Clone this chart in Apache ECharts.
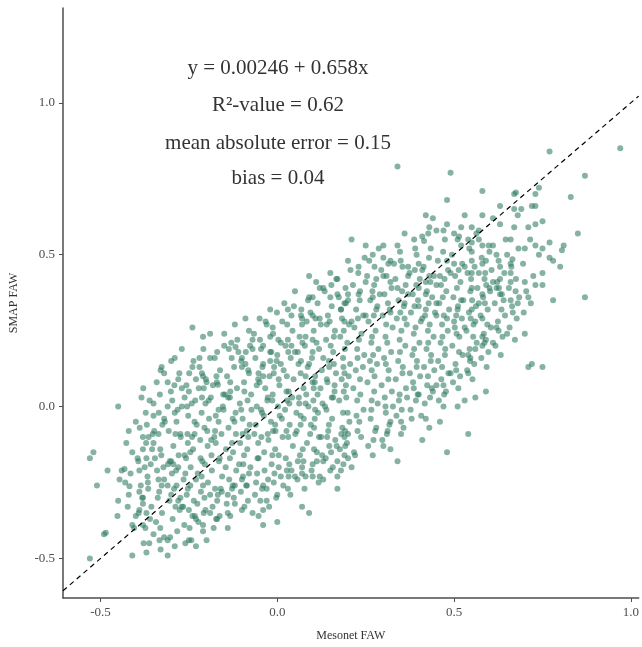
<!DOCTYPE html>
<html>
<head>
<meta charset="utf-8">
<script src="https://cdn.jsdelivr.net/npm/echarts@6/dist/echarts.min.js"></script>
<style>
html,body{margin:0;padding:0;background:#fff;}
#chart{width:642px;height:647px;}
</style>
</head>
<body>
<div id="chart"></div>
<script>
// ---- axis settings ----
const xMin = -0.606, xMax = 1.022;
const yMin = -0.630, yMax = 1.312;
const xTicks = [-0.5, 0.0, 0.5, 1.0];
const yTicks = [-0.5, 0.0, 0.5, 1.0];
const xName = 'Mesonet FAW';
const yName = 'SMAP FAW';
const annotations = ['y = 0.00246 + 0.658x', 'R\u00B2-value = 0.62', 'mean absolute error = 0.15', 'bias = 0.04'];

// ---- data: [Mesonet FAW, SMAP FAW] ----
const sparsePoints = [
[0.70,0.24],[0.65,0.24],[0.71,0.13],[0.72,0.14],[0.75,0.13],[0.59,0.05],[0.56,0.03],[0.53,0.02],[0.51,0.00],[0.47,0.00],
[0.54,-0.09],[0.48,-0.15],[0.41,-0.11],[0.43,-0.07],[0.46,-0.05],[0.42,-0.04],[0.34,-0.18],[0.32,-0.14],[0.30,-0.13],[0.27,-0.16],
[0.22,-0.16],[0.19,-0.16],[0.21,-0.20],[0.18,-0.21],[0.17,-0.27],[0.35,-0.09],[0.31,-0.09],[0.28,-0.07],[0.19,-0.10],[0.20,-0.09],
[0.38,-0.04],[0.35,-0.05],[0.32,-0.05],[0.45,0.07],[0.47,0.07],[0.44,0.05],[0.40,0.04],[0.49,0.11],[0.54,0.11],[0.54,0.17],
[0.545,0.15],[0.56,0.19],[0.58,0.20],[0.61,0.21],[0.62,0.26],[0.58,0.23],[0.59,0.22]
];
const upperRightPoints = [
[0.97,0.85],[0.77,0.84],[0.87,0.76],[0.83,0.69],[0.85,0.57],[0.34,0.79],[0.49,0.77],[0.58,0.71],[0.48,0.68],[0.67,0.70],
[0.675,0.705],[0.73,0.70],[0.74,0.72],[0.63,0.66],[0.67,0.65],[0.69,0.65],[0.72,0.66],[0.73,0.66],[0.68,0.63],[0.58,0.63],
[0.61,0.62],[0.63,0.60],[0.67,0.59],[0.71,0.59],[0.73,0.60],[0.75,0.61],[0.66,0.55],[0.70,0.52],[0.73,0.53],[0.75,0.52],
[0.77,0.54],[0.81,0.53],[0.805,0.515],[0.74,0.50],[0.77,0.49],[0.78,0.48],[0.80,0.46],[0.75,0.44],[0.70,0.41],[0.73,0.40],
[0.75,0.40],[0.71,0.36],[0.78,0.35],[0.87,0.36],[0.42,0.63],[0.43,0.59],[0.48,0.60],[0.47,0.58],[0.50,0.57],[0.52,0.59],
[0.55,0.59],[0.57,0.58],[0.21,0.55],[0.25,0.53],[0.34,0.53],[0.41,0.56],[0.415,0.545],[0.26,0.48],[0.30,0.49],[0.32,0.48],
[0.33,0.47],[0.51,0.55],[0.54,0.55],[0.55,0.54],[0.57,0.55],[0.52,0.53],[0.55,0.51],[0.58,0.53],[0.60,0.51],[0.62,0.50],
[0.61,0.53],[0.63,0.46],[0.66,0.47],[0.665,0.485],[0.65,0.50],[0.55,0.48],[0.58,0.47],[0.59,0.48],[0.53,0.46],[0.55,0.44],
[0.57,0.44],[0.61,0.41],[0.63,0.42],[0.66,0.44],[0.66,0.41],[0.68,0.34],[0.66,0.35],[0.64,0.35],[0.62,0.39],[0.63,0.37],
[0.60,0.39],[0.58,0.37],[0.55,0.39],[0.52,0.35],[0.51,0.32],[0.55,0.32],[0.57,0.34],[0.58,0.29],[0.56,0.28],[0.53,0.26],
[0.50,0.28],[0.48,0.29],[0.45,0.34],[0.42,0.37],[0.48,0.48],[0.50,0.47],[0.49,0.44],[0.46,0.43],[0.43,0.43],[0.41,0.45],
[0.40,0.47],[0.37,0.46],[0.37,0.43],[0.42,0.41],[0.45,0.40],[0.40,0.39],[0.37,0.37],[0.34,0.39],[0.32,0.41],[0.30,0.43],
[0.28,0.42],[0.25,0.41],[0.23,0.37],[0.20,0.35],[0.18,0.32],[0.36,0.34],[0.40,0.33],[0.42,0.32],[0.45,0.30],[0.41,0.29],
[0.36,0.29],[0.32,0.31],[0.28,0.32],[0.25,0.30],[0.21,0.28],[0.19,0.34],[0.27,0.36],[0.29,0.37],
[0.20,0.48],[0.23,0.46],[0.27,0.50],[0.30,0.53],[0.36,0.57],[0.39,0.52],[0.45,0.58],[0.53,0.63],[0.44,0.62]
];
const upperLeftPoints = [
[0.09,0.43],[0.17,0.42],[-0.24,0.26],[-0.21,0.23],[-0.19,0.24],[-0.09,0.29],[-0.05,0.29],[-0.03,0.27],[-0.02,0.23],[-0.07,0.22],
[-0.15,0.20],[-0.13,0.21],[-0.118,0.196],[-0.27,0.19],[-0.30,0.15],[-0.29,0.16],[-0.33,0.12],[-0.32,0.11],[-0.22,0.16],[-0.19,0.16],
[-0.17,0.18],[-0.24,0.13],[-0.22,0.13],[-0.21,0.10],[-0.23,0.09],[-0.31,0.08],[-0.28,0.09],[-0.27,0.06],[-0.25,0.05],[-0.45,0.00],
[-0.35,0.01],[-0.31,0.00],[-0.29,-0.02],[-0.27,0.00],[-0.232,0.02],[-0.208,0.06],[-0.188,0.03],[-0.171,0.08],[-0.148,0.04],[-0.20,0.08],
[-0.168,0.072],[-0.11,0.18],[-0.10,0.16],[-0.09,0.14],[-0.10,0.13],[-0.08,0.11],[-0.07,0.19],[-0.04,0.20],[-0.02,0.18],[0.00,0.17],
[-0.04,0.14],[-0.02,0.15],[0.01,0.14],[-0.01,0.11],[-0.04,0.10],[-0.05,0.08],[0.01,0.21],[0.03,0.22],[0.04,0.20],[0.05,0.18],
[0.07,0.27],[0.08,0.23],[0.10,0.22],[0.03,0.32],[0.04,0.30],[0.07,0.29],[0.09,0.36],[0.10,0.36],[0.12,0.39],[0.13,0.39],
[0.15,0.36],[0.17,0.37],[0.20,0.37],[0.10,0.30],[0.12,0.29],[0.14,0.27],[0.16,0.23],[0.18,0.32],[0.19,0.28],[0.10,0.18],
[0.13,0.16],[0.16,0.14],[0.19,0.11],[0.14,0.09],[0.10,0.08],[0.08,0.10],[0.06,0.14],[0.09,0.14],[-0.133,0.05],[-0.102,-0.01],
[-0.058,0.07],[-0.028,0.02],[0.004,0.09],[0.032,0.05],[0.061,0.03],[0.08,0.01],[0.103,0.06],[0.128,0.01],[0.162,0.07],[0.188,0.05],
[-0.12,0.27],[-0.08,0.25],[-0.15,0.24],[0.02,0.34],[0.05,0.38],[-0.02,0.32],[0.11,0.41],[0.15,0.44]
];
const lowerLeftPoints = [
[-0.53,-0.50],[-0.49,-0.42],[-0.485,-0.415],[-0.51,-0.26],[-0.52,-0.15],[-0.53,-0.17],[-0.48,-0.21],[-0.41,-0.49],[-0.37,-0.48],[-0.33,-0.47],
[-0.31,-0.49],[-0.29,-0.46],[-0.26,-0.45],[-0.25,-0.44],[-0.23,-0.46],[-0.20,-0.44],[-0.41,-0.39],[-0.405,-0.40],[-0.35,-0.42],[-0.32,-0.43],
[-0.31,-0.44],[-0.21,-0.41],[-0.18,-0.40],[-0.14,-0.40],[-0.04,-0.39],[0.00,-0.38],[0.07,-0.33],[0.09,-0.35],[0.17,-0.23],[0.13,-0.24],
[0.10,-0.23],[0.08,-0.23],[-0.45,-0.31],[-0.42,-0.29],[-0.43,-0.25],[-0.418,-0.262],[-0.44,-0.21],[-0.432,-0.205],[-0.39,-0.21],[-0.41,-0.15],
[-0.38,-0.14],[-0.37,-0.17],[-0.42,-0.08],[-0.40,-0.05],[-0.38,-0.10],[-0.35,-0.12],[-0.35,-0.03],[-0.32,-0.04],[-0.39,-0.28],[-0.38,-0.30],
[-0.38,-0.32],[-0.39,-0.34],[-0.37,-0.35],[-0.36,-0.37],[-0.40,-0.36],[-0.38,-0.39],[-0.34,-0.21],[-0.32,-0.24],[-0.31,-0.26],[-0.30,-0.29],
[-0.28,-0.31],[-0.27,-0.33],[-0.25,-0.34],[-0.24,-0.36],[-0.23,-0.37],[-0.21,-0.39],[-0.19,-0.35],[-0.17,-0.37],[-0.14,-0.35],[-0.12,-0.32],
[-0.10,-0.34],[-0.07,-0.35],[-0.04,-0.34],[-0.03,-0.31],[0.00,-0.29],[0.03,-0.27],[0.05,-0.23],[0.07,-0.22],[0.12,-0.23],[0.15,-0.21],
[-0.30,-0.18],[-0.28,-0.20],[-0.26,-0.22],[-0.23,-0.24],[-0.21,-0.26],[-0.19,-0.29],[-0.17,-0.31],[-0.16,-0.27],[-0.14,-0.29],[-0.12,-0.26],
[-0.10,-0.24],[-0.08,-0.22],[-0.06,-0.25],[-0.04,-0.26],[-0.03,-0.27],[-0.01,-0.25],[0.01,-0.23],[0.04,-0.21],[0.07,-0.20],[0.10,-0.19],
[0.13,-0.18],[0.17,-0.18],[0.20,-0.17],
[-0.372,-0.02],[-0.348,-0.08],[-0.318,-0.05],[-0.297,0.02],[-0.274,-0.09],[-0.252,-0.03],[-0.228,-0.06],[-0.203,0.01],[-0.176,-0.08],[-0.152,-0.01],
[-0.139,0.03],[-0.121,-0.05],[-0.098,-0.09],[-0.084,0.02],[-0.061,-0.06],[-0.043,-0.02],[-0.027,0.03],[-0.012,-0.08],[0.013,-0.04],[0.028,0.02],
[0.051,-0.09],[0.066,-0.03],[0.088,0.00],[0.104,-0.07],[0.118,-0.10],[0.139,-0.01],[0.158,0.03],[0.181,-0.09],[0.199,-0.02],
[-0.393,-0.18],[-0.364,-0.10],[-0.331,-0.14],[-0.309,-0.19],[-0.288,-0.09],[-0.262,-0.16],[-0.234,-0.09],[-0.212,-0.18],[-0.187,-0.11],[-0.163,-0.17],
[-0.128,-0.12],[-0.108,-0.19],[-0.082,-0.10],[-0.053,-0.17],[-0.027,-0.09],[0.004,-0.16],[0.031,-0.10],[0.058,-0.18],[0.093,-0.09],[0.112,-0.15],
[0.141,-0.10],[0.168,-0.13],[0.192,-0.08]
];
const coreLeftPoints = [
[-0.392,-0.35],[-0.386,-0.26],[-0.395,-0.17],[-0.389,-0.07],[-0.384,0.03],[-0.423,-0.33],[-0.415,-0.22],[-0.427,-0.12],[-0.452,-0.36],[-0.446,-0.24],
[-0.378,-0.45],[-0.382,-0.30],[-0.375,-0.20],[-0.371,-0.12],[-0.379,0.06],[-0.362,-0.45],[-0.356,-0.33],[-0.365,-0.27],[-0.358,-0.19],[-0.352,-0.09],
[-0.361,0.02],[-0.354,-0.14],[-0.367,-0.23],[-0.343,-0.38],[-0.338,-0.30],[-0.346,-0.17],[-0.335,-0.02],[-0.341,0.08],[-0.331,-0.40],[-0.326,-0.35],
[-0.334,-0.28],[-0.322,-0.20],[-0.328,-0.16],[-0.325,-0.06],[-0.332,0.04],[-0.327,0.13],[-0.336,-0.24],[-0.303,-0.43],[-0.296,-0.37],[-0.305,-0.31],
[-0.298,-0.22],[-0.294,-0.13],[-0.307,-0.08],[-0.301,0.05],[-0.292,-0.27],[-0.304,-0.18],[-0.283,-0.41],[-0.276,-0.34],[-0.285,-0.26],[-0.279,-0.16],
[-0.273,-0.10],[-0.282,-0.01],[-0.277,0.11],[-0.286,-0.21],[-0.274,-0.30],[-0.263,-0.39],[-0.256,-0.29],[-0.265,-0.24],[-0.258,-0.17],[-0.254,-0.09],
[-0.262,0.03],[-0.257,0.07],[-0.266,-0.33],[-0.253,-0.12],[-0.243,-0.44],[-0.236,-0.31],[-0.245,-0.20],[-0.238,-0.14],[-0.234,-0.05],[-0.242,0.01],
[-0.237,0.15],[-0.246,-0.26],[-0.233,-0.36],[-0.241,-0.10],[-0.223,-0.38],[-0.216,-0.28],[-0.225,-0.22],[-0.218,-0.11],[-0.214,-0.02],[-0.222,0.06],
[-0.217,-0.17],[-0.226,-0.32],[-0.213,0.11],[-0.203,-0.34],[-0.196,-0.25],[-0.205,-0.19],[-0.198,-0.08],[-0.194,0.02],[-0.202,0.09],[-0.197,-0.13],
[-0.206,-0.30],[-0.193,-0.04],[-0.183,-0.33],[-0.176,-0.27],[-0.185,-0.21],[-0.178,-0.10],[-0.174,-0.03],[-0.182,0.07],[-0.177,0.16],[-0.186,-0.16],
[-0.173,-0.37],[-0.163,-0.36],[-0.156,-0.23],[-0.165,-0.18],[-0.158,-0.09],[-0.154,0.00],[-0.162,0.12],[-0.157,-0.28],[-0.166,-0.05],[-0.153,0.04],
[-0.143,-0.32],[-0.136,-0.24],[-0.145,-0.14],[-0.138,-0.07],[-0.134,0.03],[-0.142,0.10],[-0.137,0.19],[-0.146,-0.20],[-0.133,-0.36],[-0.123,-0.30],
[-0.116,-0.21],[-0.125,-0.15],[-0.118,-0.02],[-0.114,0.06],[-0.122,0.13],[-0.117,-0.09],[-0.126,-0.26],[-0.113,0.22]
];
const coreMidPoints = [
[-0.103,-0.28],[-0.096,-0.19],[-0.105,-0.12],[-0.098,-0.04],[-0.094,0.08],[-0.102,0.15],[-0.097,-0.23],[-0.106,0.01],[-0.093,-0.33],[-0.083,-0.31],
[-0.076,-0.20],[-0.085,-0.14],[-0.078,-0.06],[-0.074,0.04],[-0.082,0.12],[-0.077,0.20],[-0.086,-0.26],[-0.073,-0.01],[-0.063,-0.29],[-0.056,-0.17],
[-0.065,-0.09],[-0.058,0.00],[-0.054,0.09],[-0.062,0.16],[-0.057,-0.22],[-0.066,0.24],[-0.053,-0.36],[-0.043,-0.27],[-0.036,-0.21],[-0.045,-0.10],
[-0.038,-0.03],[-0.034,0.06],[-0.042,0.13],[-0.037,-0.15],[-0.046,0.19],[-0.033,0.28],[-0.023,-0.33],[-0.016,-0.19],[-0.025,-0.11],[-0.018,-0.05],
[-0.014,0.02],[-0.022,0.10],[-0.017,0.18],[-0.026,-0.24],[-0.013,0.26],[-0.003,-0.30],[0.004,-0.20],[-0.005,-0.08],[0.002,0.00],[0.006,0.07],
[-0.002,0.15],[0.003,0.22],[-0.006,-0.14],[0.007,-0.03],[-0.001,0.31],[0.017,-0.26],[0.024,-0.17],[0.015,-0.10],[0.022,-0.01],[0.026,0.05],
[0.018,0.12],[0.023,0.20],[0.014,0.28],[0.027,-0.21],[0.037,-0.29],[0.044,-0.13],[0.035,-0.06],[0.042,0.03],[0.046,0.09],[0.038,0.16],
[0.043,0.25],[0.034,-0.19],[0.047,0.33],[0.057,-0.24],[0.064,-0.16],[0.055,-0.08],[0.062,0.01],[0.066,0.11],[0.058,0.18],[0.063,0.23],
[0.054,-0.02],[0.067,0.30],[0.077,-0.27],[0.084,-0.12],[0.075,-0.04],[0.082,0.04],[0.086,0.13],[0.078,0.20],[0.083,0.28],[0.074,-0.18],
[0.087,0.35],[0.097,-0.21],[0.104,-0.14],[0.095,-0.06],[0.102,0.02],[0.106,0.08],[0.098,0.16],[0.103,0.25],[0.094,0.31],[0.107,-0.01],
[0.117,-0.25],[0.124,-0.10],[0.115,-0.02],[0.122,0.06],[0.126,0.12],[0.118,0.19],[0.123,0.27],[0.114,0.34],[0.127,-0.16],[0.137,-0.17],
[0.144,-0.08],[0.135,0.00],[0.142,0.08],[0.146,0.15],[0.138,0.22],[0.143,0.30],[0.134,0.38],[0.147,-0.13],[0.157,-0.20],[0.164,-0.11],
[0.155,-0.04],[0.162,0.05],[0.166,0.11],[0.158,0.18],[0.163,0.25],[0.154,0.33],[0.167,0.42],[0.177,-0.14],[0.184,-0.07],[0.175,0.02],
[0.182,0.09],[0.186,0.16],[0.178,0.23],[0.183,0.29],[0.174,0.36],[0.187,-0.19],[0.197,-0.12],[0.204,-0.05],[0.195,0.03],[0.202,0.10],
[0.206,0.14],[0.198,0.21],[0.203,0.27],[0.194,0.34],[0.207,0.45]
];
const coreRightPoints = [
[0.217,-0.15],[0.224,-0.03],[0.215,0.06],[0.222,0.12],[0.226,0.19],[0.218,0.26],[0.223,0.32],[0.214,0.40],[0.227,-0.08],[0.237,-0.10],
[0.244,-0.01],[0.235,0.04],[0.242,0.13],[0.246,0.17],[0.238,0.24],[0.243,0.30],[0.234,0.38],[0.247,0.49],[0.257,-0.13],[0.264,-0.04],
[0.255,0.08],[0.262,0.15],[0.266,0.21],[0.258,0.28],[0.263,0.35],[0.254,0.43],[0.267,0.02],[0.277,-0.08],[0.284,0.01],[0.275,0.10],
[0.282,0.14],[0.286,0.19],[0.278,0.25],[0.283,0.33],[0.274,0.40],[0.287,0.52],[0.297,-0.11],[0.304,0.03],[0.295,0.07],[0.302,0.16],
[0.306,0.23],[0.298,0.30],[0.303,0.37],[0.294,0.45],[0.307,-0.02],[0.317,-0.06],[0.324,0.05],[0.315,0.12],[0.322,0.18],[0.326,0.26],
[0.318,0.32],[0.323,0.39],[0.314,0.47],[0.327,0.00],[0.337,-0.03],[0.344,0.02],[0.335,0.09],[0.342,0.15],[0.346,0.22],[0.338,0.29],
[0.343,0.35],[0.334,0.42],[0.347,0.51],[0.357,-0.07],[0.364,0.06],[0.355,0.13],[0.362,0.20],[0.366,0.27],[0.358,0.33],[0.363,0.40],
[0.354,0.46],[0.367,0.03],[0.377,-0.01],[0.384,0.08],[0.375,0.11],[0.382,0.17],[0.386,0.24],[0.378,0.31],[0.383,0.37],[0.374,0.44],
[0.387,0.55],[0.397,0.04],[0.404,0.10],[0.395,0.15],[0.402,0.21],[0.406,0.28],[0.398,0.35],[0.403,0.42],[0.394,0.50],[0.407,-0.03],
[0.417,0.01],[0.424,0.07],[0.415,0.13],[0.422,0.19],[0.426,0.25],[0.418,0.30],[0.423,0.38],[0.414,0.46],[0.427,0.57],[0.437,0.06],
[0.444,0.12],[0.435,0.17],[0.442,0.23],[0.446,0.31],[0.438,0.36],[0.443,0.43],[0.434,0.52],[0.457,0.02],[0.464,0.09],[0.455,0.15],
[0.462,0.21],[0.466,0.27],[0.458,0.34],[0.463,0.40],[0.454,0.48],[0.477,0.05],[0.484,0.11],[0.475,0.19],[0.482,0.25],[0.486,0.32],
[0.478,0.38],[0.483,0.45],[0.474,0.55],[0.497,0.08],[0.504,0.14],[0.495,0.20],[0.502,0.26],[0.506,0.30],[0.498,0.36],[0.503,0.43],
[0.494,0.50],[0.517,0.10],[0.524,0.17],[0.515,0.23],[0.522,0.29],[0.526,0.35],[0.518,0.41],[0.523,0.47],[0.514,0.56],[0.537,0.12],
[0.544,0.19],[0.535,0.25],[0.542,0.31],[0.546,0.38],[0.538,0.44],[0.543,0.52],[0.557,0.14],[0.564,0.21],[0.555,0.27],[0.562,0.33],
[0.566,0.39],[0.558,0.46],[0.563,0.57],[0.577,0.16],[0.584,0.24],[0.575,0.30],[0.582,0.36],[0.586,0.42],[0.578,0.49],[0.597,0.18],
[0.604,0.26],[0.595,0.32],[0.602,0.38],[0.606,0.45],[0.598,0.53],[0.617,0.20],[0.624,0.28],[0.615,0.34],[0.622,0.41],[0.626,0.48],
[0.637,0.23],[0.644,0.30],[0.635,0.37],[0.642,0.44],[0.646,0.55],[0.657,0.26],[0.664,0.33],[0.655,0.39],[0.662,0.46],[0.677,0.29],
[0.684,0.36],[0.675,0.42],[0.682,0.52],[0.697,0.31],[0.704,0.38],[0.695,0.47],[0.717,0.34],[0.724,0.43],[0.715,0.55]
];
const coreExtraPoints = [
[-0.373,-0.40],[-0.366,-0.25],[-0.369,-0.06],[-0.333,-0.44],[-0.327,-0.26],[-0.336,-0.09],
[-0.288,-0.33],[-0.294,-0.19],[-0.285,-0.05],[-0.291,0.07],
[-0.248,-0.40],[-0.253,-0.27],[-0.246,-0.15],[-0.255,0.00],[-0.249,0.11],
[-0.208,-0.35],[-0.214,-0.23],[-0.206,-0.07],[-0.213,0.03],[-0.209,0.19],
[-0.168,-0.29],[-0.174,-0.12],[-0.166,-0.01],[-0.172,0.10],
[-0.128,-0.27],[-0.134,-0.17],[-0.126,-0.04],[-0.133,0.08],[-0.129,0.16],
[-0.088,-0.26],[-0.094,-0.16],[-0.086,-0.08],[-0.093,0.05],[-0.089,0.18],
[-0.048,-0.31],[-0.054,-0.12],[-0.046,-0.01],[-0.053,0.11],[-0.049,0.22],
[-0.008,-0.22],[-0.014,-0.16],[-0.006,-0.06],[-0.013,0.04],[-0.009,0.13],[-0.012,0.24],
[0.032,-0.23],[0.026,-0.08],[0.034,0.01],[0.027,0.10],[0.031,0.18],[0.028,0.27],
[0.072,-0.14],[0.066,-0.06],[0.074,0.06],[0.067,0.15],[0.071,0.21],[0.068,0.32],
[0.112,-0.18],[0.106,-0.04],[0.114,0.04],[0.107,0.10],[0.111,0.21],[0.108,0.29],
[0.152,-0.15],[0.146,-0.06],[0.154,0.03],[0.147,0.13],[0.151,0.20],[0.148,0.28],[0.153,0.40],
[0.192,-0.13],[0.186,-0.02],[0.194,0.07],[0.187,0.13],[0.191,0.19],[0.188,0.25],[0.193,0.39],
[0.232,-0.05],[0.226,0.02],[0.234,0.09],[0.227,0.16],[0.231,0.22],[0.228,0.29],[0.233,0.35],[0.229,0.44],
[0.272,-0.11],[0.266,-0.01],[0.274,0.05],[0.267,0.12],[0.271,0.17],[0.268,0.23],[0.273,0.30],[0.269,0.38],[0.275,0.46],
[0.312,-0.08],[0.306,0.00],[0.314,0.09],[0.307,0.14],[0.311,0.21],[0.308,0.27],[0.313,0.34],[0.309,0.43],
[0.352,-0.01],[0.346,0.04],[0.354,0.11],[0.347,0.18],[0.351,0.25],[0.348,0.31],[0.353,0.38],[0.349,0.48],
[0.392,0.02],[0.386,0.06],[0.394,0.13],[0.387,0.19],[0.391,0.26],[0.388,0.33],[0.393,0.40],[0.389,0.45],
[0.432,0.03],[0.426,0.10],[0.434,0.15],[0.427,0.21],[0.431,0.27],[0.428,0.34],[0.433,0.41],[0.429,0.49],
[0.472,0.04],[0.466,0.13],[0.474,0.17],[0.467,0.23],[0.471,0.30],[0.468,0.36],[0.473,0.42],[0.469,0.51],
[0.512,0.06],[0.506,0.12],[0.514,0.18],[0.507,0.24],[0.511,0.33],[0.508,0.39],[0.513,0.45],
[0.552,0.09],[0.546,0.16],[0.554,0.23],[0.547,0.29],[0.551,0.35],[0.548,0.42],
[0.592,0.13],[0.586,0.21],[0.594,0.27],[0.587,0.34],[0.591,0.40],[0.588,0.44],
[0.632,0.17],[0.626,0.25],[0.634,0.32],[0.627,0.39],
[0.672,0.22],[0.666,0.31],[0.674,0.38]
];

const allPoints = [].concat(sparsePoints, upperRightPoints, upperLeftPoints, lowerLeftPoints, coreLeftPoints, coreMidPoints, coreRightPoints, coreExtraPoints);
const identityLine = [[xMin, xMin], [xMax, xMax]];

const serif = "'Liberation Serif', 'DejaVu Serif', serif";
const axisColor = '#4d4d4d';

const chart = echarts.init(document.getElementById('chart'), null, {renderer: 'canvas'});
const option = {
  animation: false,
  backgroundColor: '#ffffff',
  grid: {left: 62, right: 0, top: 8, bottom: 41, containLabel: false},
  xAxis: {
    type: 'value', min: xMin, max: xMax,
    name: xName, nameLocation: 'middle', nameGap: 32,
    nameTextStyle: {fontFamily: serif, fontSize: 12, color: '#333'},
    splitLine: {show: false},
    axisLine: {show: true, onZero: false, lineStyle: {color: axisColor, width: 1.5}},
    axisTick: {show: true, length: 4, customValues: xTicks, lineStyle: {color: axisColor, width: 1}},
    axisLabel: {customValues: xTicks, formatter: v => Number(v).toFixed(1), fontFamily: serif, fontSize: 13, color: '#4d4d4d', margin: 8}
  },
  yAxis: {
    type: 'value', min: yMin, max: yMax,
    name: yName, nameLocation: 'middle', nameGap: 43,
    nameTextStyle: {fontFamily: serif, fontSize: 12, color: '#333'},
    splitLine: {show: false},
    axisLine: {show: true, onZero: false, lineStyle: {color: axisColor, width: 1.5}},
    axisTick: {show: true, length: 4, customValues: yTicks, lineStyle: {color: axisColor, width: 1}},
    axisLabel: {customValues: yTicks, formatter: v => Number(v).toFixed(1), fontFamily: serif, fontSize: 13, color: '#4d4d4d', margin: 8}
  },
  series: [
    {
      type: 'scatter', data: allPoints, symbolSize: 6, z: 2,
      itemStyle: {color: '#2f7a62', opacity: 0.58},
      emphasis: {disabled: true}
    },
    {
      type: 'line', data: identityLine, symbol: 'none', z: 3,
      lineStyle: {color: '#000', width: 1.2, type: [5, 4]},
      emphasis: {disabled: true}
    }
  ],
  graphic: annotations.map((t, i) => ({
    type: 'text', x: 278, y: [68, 105, 143, 178][i], z: 10,
    style: {text: t, textAlign: 'center', textVerticalAlign: 'middle', font: '21px ' + serif, fill: '#333'}
  }))
};
chart.setOption(option);
</script>
</body>
</html>
